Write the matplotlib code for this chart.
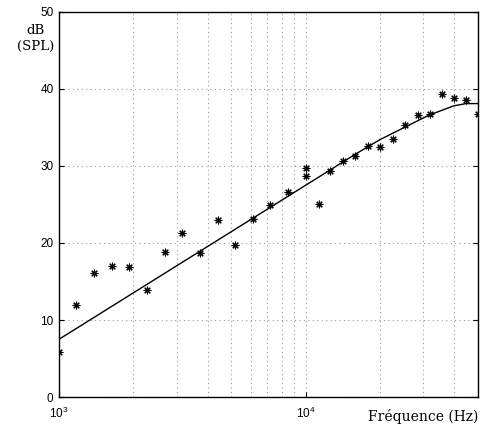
import matplotlib.pyplot as plt
from matplotlib.ticker import LogLocator, NullFormatter

# measured points (Hz, dB SPL)
freq_pts = [1000, 1170, 1390, 1640, 1920, 2270, 2690, 3150, 3720, 4400, 5160,
            6100, 7150, 8460, 10000, 10000, 11300, 12600, 14160, 15900, 17880,
            20060, 22560, 25330, 28500, 31780, 35760, 40100, 44760, 50100]
db_pts = [5.8, 11.9, 16.1, 17.0, 16.9, 13.9, 18.8, 21.3, 18.7, 23.0, 19.7,
          23.1, 24.9, 26.6, 29.7, 28.7, 25.1, 29.4, 30.6, 31.3, 32.6,
          32.5, 33.5, 35.3, 36.6, 36.8, 39.4, 38.8, 38.6, 36.7]

# fitted curve
freq_fit = [1000, 3162, 10000, 15849, 19953, 25119, 31623, 39811, 44668, 50119]
db_fit = [7.5, 17.5, 27.5, 31.5, 33.4, 35.0, 36.6, 37.8, 38.1, 38.1]

plt.rcParams['font.family'] = ['Liberation Sans', 'DejaVu Sans']

fig = plt.figure(figsize=(4.8, 4.26), dpi=100)
ax = fig.add_axes([0.123, 0.068, 0.873, 0.904])

ax.plot(freq_fit, db_fit, color="black", linewidth=1)
ax.plot(freq_pts, db_pts, linestyle="none", marker=(8, 2, 0), markersize=5.5,
        markeredgewidth=0.8, color="black")

ax.set_xscale("log")
ax.set_xlim(1000, 50000)
ax.set_ylim(0, 50)
ax.set_yticks([0, 10, 20, 30, 40, 50])
ax.xaxis.set_major_locator(LogLocator(base=10))
ax.xaxis.set_minor_locator(LogLocator(base=10, subs=range(2, 10)))
ax.xaxis.set_minor_formatter(NullFormatter())

grid_style = dict(linestyle=(0, (1, 3)), color="#999999", linewidth=0.8)
ax.grid(True, which="both", axis="x", **grid_style)
ax.grid(True, which="major", axis="y", **grid_style)

ax.tick_params(which="both", direction="in", labelsize=8.5, top=False, right=True)
ax.tick_params(which="minor", length=0)
ax.tick_params(axis="x", pad=6)
ax.tick_params(axis="y", pad=4)
for s in ax.spines.values():
    s.set_linewidth(1)

ax.text(-0.055, 0.93, "dB\n(SPL)", transform=ax.transAxes, ha="center", va="center",
        family="DejaVu Serif", fontsize=9.5, linespacing=1.3)
ax.text(1.0, -0.05, "Fréquence (Hz)", transform=ax.transAxes, ha="right", va="center",
        family="DejaVu Serif", fontsize=10)

fig.savefig("out.png", dpi=100)
